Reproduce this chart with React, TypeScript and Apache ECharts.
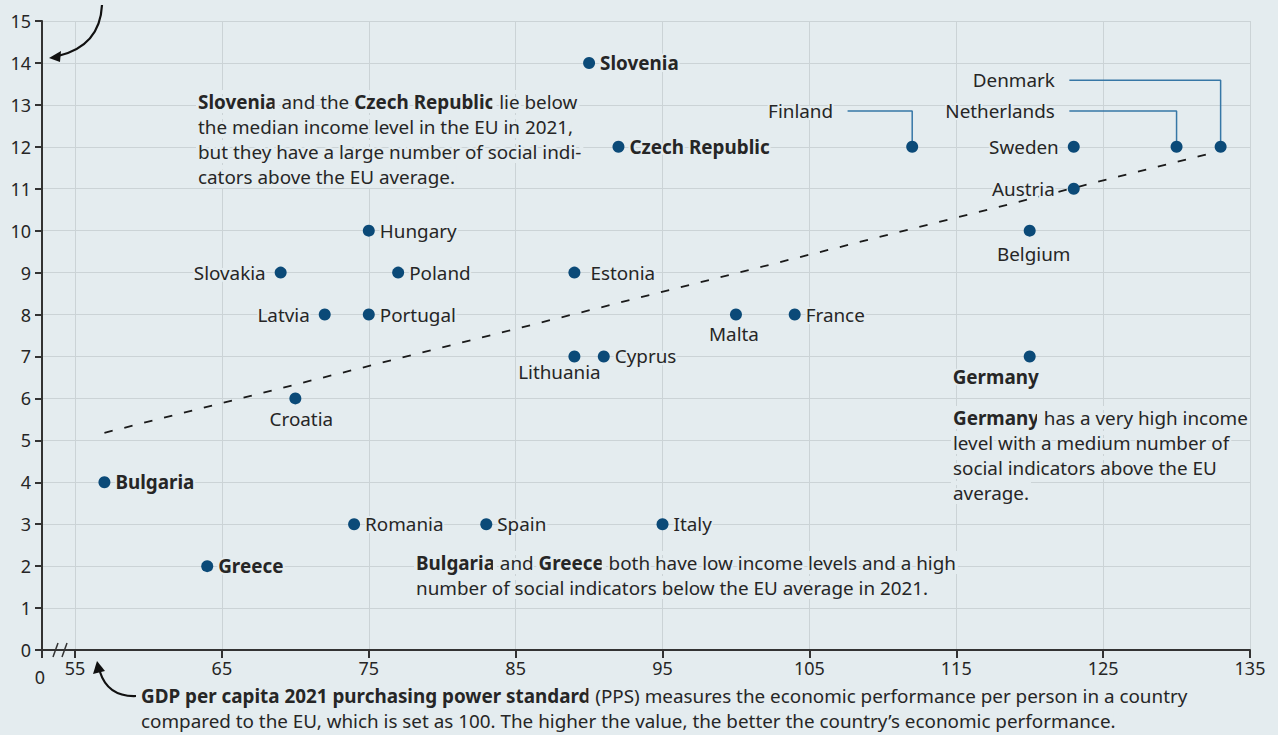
import React, { useEffect, useRef } from "react";
import * as echarts from "echarts";

// ---- data ----
const countries = [
  "Slovenia", "Czech Republic", "Finland", "Netherlands", "Denmark", "Sweden", "Austria",
  "Belgium", "Hungary", "Slovakia", "Poland", "Estonia", "Latvia", "Portugal", "Malta",
  "France", "Lithuania", "Cyprus", "Germany", "Croatia", "Bulgaria", "Romania", "Spain",
  "Italy", "Greece",
];
const gdpPps = [90, 92, 112, 130, 133, 123, 123, 120, 75, 69, 77, 89, 72, 75, 100, 104, 89, 91, 120, 70, 57, 74, 83, 95, 64];
const socialIndicators = [14, 12, 12, 12, 12, 12, 11, 10, 10, 9, 9, 9, 8, 8, 8, 8, 7, 7, 7, 6, 4, 3, 3, 3, 2];
const boldCountries = ["Slovenia", "Czech Republic", "Germany", "Bulgaria", "Greece"];

const xTicks = [55, 65, 75, 85, 95, 105, 115, 125, 135];
const xAxisMin = 52.75; // axis origin (shown as 0, broken axis)
const yTicks = { min: 0, max: 15, step: 1 };

const trendX = [57, 132.5];
const trendY = [5.18, 11.86];

// leader lines: label anchor -> elbow -> point
const leaderNames = ["Finland", "Netherlands", "Denmark"];
const leaderStartX = [107.6, 122.7, 122.7];
const leaderY = [12.855, 12.855, 13.59];

// label placement (style)
const labelPlacement: Record<string, { pos: string; dist?: number; off?: [number, number] }> = {
  Slovenia: { pos: "right" },
  "Czech Republic": { pos: "right" },
  Sweden: { pos: "left", dist: 9 },
  Austria: { pos: "left", dist: 13 },
  Belgium: { pos: "bottom", dist: 8, off: [4, 0] },
  Hungary: { pos: "right" },
  Slovakia: { pos: "left", dist: 9 },
  Poland: { pos: "right" },
  Estonia: { pos: "right", dist: 10 },
  Latvia: { pos: "left", dist: 9 },
  Portugal: { pos: "right" },
  Malta: { pos: "bottom", dist: 4, off: [-2, 0] },
  France: { pos: "right" },
  Lithuania: { pos: "bottom", dist: 0, off: [-15, 0] },
  Cyprus: { pos: "right" },
  Germany: { pos: "bottom", dist: 5, off: [-34, 0] },
  Croatia: { pos: "bottom", dist: 5, off: [6, 0] },
  Bulgaria: { pos: "right" },
  Romania: { pos: "right" },
  Spain: { pos: "right" },
  Italy: { pos: "right" },
  Greece: { pos: "right" },
};

const FONT = "'Noto Sans', sans-serif";
const TEXT = "#262626";
const DOT = "#0b4a78";
const BG = "#e4ecef";
const FS = 18.85;
const LH = 25;

export default function App() {
  const ref = useRef<HTMLDivElement>(null);
  useEffect(() => {
    document.body.style.margin = "0";
    const chart = echarts.init(ref.current!, null, { renderer: "svg" });

    const scatterData = countries
      .map((name, i) => ({ name, i }))
      .filter((d) => !leaderNames.includes(d.name))
      .map(({ name, i }) => {
        const p = labelPlacement[name] || { pos: "right" };
        return {
          name,
          value: [gdpPps[i], socialIndicators[i]],
          label: {
            show: true,
            position: p.pos,
            distance: p.dist ?? 5,
            offset: p.off ?? [0, 0],
            fontWeight: boldCountries.includes(name) ? "bold" : "normal",
          },
        };
      });
    const leaderPoints = leaderNames.map((name) => {
      const i = countries.indexOf(name);
      return { name, value: [gdpPps[i], socialIndicators[i]], label: { show: false } };
    });

    const leaderSeries = leaderNames.map((name, k) => {
      const i = countries.indexOf(name);
      return {
        type: "line",
        silent: true,
        symbol: "circle",
        symbolSize: 1,
        itemStyle: { color: "rgba(0,0,0,0)" },
        lineStyle: { color: "#3677a6", width: 1.5 },
        z: 3,
        data: [
          {
            value: [leaderStartX[k], leaderY[k]],
            label: {
              show: true,
              position: "left",
              distance: 14,
              formatter: name,
              color: TEXT,
              fontSize: FS,
              fontFamily: FONT,
              textBorderColor: BG,
              textBorderWidth: 4,
            },
          },
          { value: [gdpPps[i], leaderY[k]] },
          { value: [gdpPps[i], socialIndicators[i]] },
        ],
      };
    });

    const halo = { textBorderColor: BG, textBorderWidth: 4 };
    const bodyText = { fontFamily: FONT, fontSize: FS, fill: TEXT, lineHeight: LH, stroke: BG, lineWidth: 4 };
    const rich = {
      b: { fontWeight: "bold", fontFamily: FONT, fontSize: FS, color: TEXT, lineHeight: LH, ...halo },
      n: { fontFamily: FONT, fontSize: FS, color: TEXT, lineHeight: LH, ...halo },
    };

    chart.setOption({
      animation: false,
      backgroundColor: BG,
      textStyle: { fontFamily: FONT },
      grid: { left: 42, right: 28, top: 21, bottom: 85, containLabel: false },
      xAxis: {
        type: "value",
        min: xAxisMin,
        max: 135,
        axisLine: { show: true, onZero: false, lineStyle: { color: "#333", width: 2 } },
        axisTick: { show: true, length: 8, customValues: [xAxisMin, ...xTicks], lineStyle: { color: "#333", width: 2 } },
        axisLabel: {
          customValues: [xAxisMin, ...xTicks],
          formatter: (v: number) => (Math.abs(v - xAxisMin) < 0.01 ? "{z|0}" : String(v)),
          rich: { z: { padding: [9, 4, 0, 0], fontSize: 18, color: TEXT, fontFamily: FONT } },
          color: TEXT,
          fontSize: 18,
          margin: 9,
          fontFamily: FONT,
        },
        splitLine: { show: true, lineStyle: { color: "#cbd3d6", width: 1 } },
      },
      yAxis: {
        type: "value",
        min: yTicks.min,
        max: yTicks.max,
        interval: yTicks.step,
        axisLine: { show: true, lineStyle: { color: "#333", width: 2 } },
        axisTick: { show: true, length: 7, lineStyle: { color: "#333", width: 2 } },
        axisLabel: { color: TEXT, fontSize: 18, margin: 11, fontFamily: FONT },
        splitLine: { show: true, lineStyle: { color: "#cbd3d6", width: 1 } },
      },
      series: [
        {
          type: "line",
          silent: true,
          symbol: "none",
          lineStyle: { color: "#1a1a1a", width: 1.8, type: [8.5, 12] },
          data: trendX.map((x, i) => [x, trendY[i]]),
          z: 2,
        },
        ...leaderSeries,
        {
          type: "scatter",
          symbolSize: 12,
          itemStyle: { color: DOT, opacity: 1 },
          label: { color: TEXT, fontSize: FS, fontFamily: FONT, formatter: "{b}", ...halo },
          data: [...scatterData, ...leaderPoints],
          z: 5,
        },
      ],
      graphic: [
        // axis break marks
        { type: "line", shape: { x1: 53, y1: 657, x2: 58, y2: 643 }, style: { stroke: "#333", lineWidth: 1.5 }, z: 10 },
        { type: "line", shape: { x1: 62, y1: 657, x2: 67, y2: 643 }, style: { stroke: "#333", lineWidth: 1.5 }, z: 10 },
        // top arrow
        {
          type: "bezierCurve",
          shape: { x1: 102, y1: 5, x2: 58, y2: 56, cpx1: 100, cpy1: 46 },
          style: { stroke: "#111", lineWidth: 2.2, fill: null },
          z: 10,
        },
        {
          type: "polygon",
          shape: { points: [[49, 58], [61, 51], [60, 62]] },
          style: { fill: "#111" },
          z: 10,
        },
        // bottom arrow
        {
          type: "bezierCurve",
          shape: { x1: 136, y1: 696, x2: 100, y2: 672, cpx1: 108, cpy1: 697 },
          style: { stroke: "#111", lineWidth: 2.2, fill: null },
          z: 10,
        },
        {
          type: "polygon",
          shape: { points: [[97, 661], [93, 674], [105, 671]] },
          style: { fill: "#111" },
          z: 10,
        },
        // annotations
        {
          type: "text",
          left: 196,
          top: 89,
          style: {
            ...bodyText,
            rich,
            text:
              "{b|Slovenia}{n| and the }{b|Czech Republic}{n| lie below}\n{n|the median income level in the EU in 2021,}\n{n|but they have a large number of social indi-}\n{n|cators above the EU average.}",
          },
          z: 10,
        },
        {
          type: "text",
          left: 951,
          top: 405,
          style: {
            ...bodyText,
            rich,
            text:
              "{b|Germany}{n| has a very high income}\n{n|level with a medium number of}\n{n|social indicators above the EU}\n{n|average.}",
          },
          z: 10,
        },
        {
          type: "text",
          left: 414,
          top: 550,
          style: {
            ...bodyText,
            rich,
            text:
              "{b|Bulgaria}{n| and }{b|Greece}{n| both have low income levels and a high}\n{n|number of social indicators below the EU average in 2021.}",
          },
          z: 10,
        },
        {
          type: "text",
          left: 139,
          top: 683,
          style: {
            ...bodyText,
            rich,
            text:
              "{b|GDP per capita 2021 purchasing power standard}{n| (PPS) measures the economic performance per person in a country}\n{n|compared to the EU, which is set as 100. The higher the value, the better the country’s economic performance.}",
          },
          z: 10,
        },
      ],
    });
    return () => chart.dispose();
  }, []);
  return <div ref={ref} style={{ width: 1278, height: 735 }} />;
}
